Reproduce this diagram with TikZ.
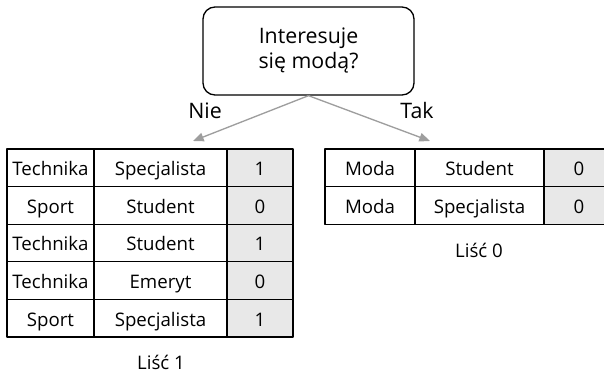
\documentclass[tikz,border=0pt]{standalone}
\usepackage{fontspec}
\setmainfont{Open Sans}
\usetikzlibrary{arrows.meta}
\definecolor{arrowgray}{rgb}{0.62,0.62,0.62}
\definecolor{cellgray}{rgb}{0.91,0.91,0.91}

\begin{document}
\begin{tikzpicture}[x=0.75pt,y=-0.75pt,line join=round,
    cell/.style={draw,line width=1pt,minimum height=28.2pt,inner sep=0pt,
      text height=12pt,text depth=0pt,font=\fontsize{14}{16}\selectfont},
    valcell/.style={cell,fill=cellgray},
    question/.style={draw,line width=1pt,rounded corners=9pt,align=center,
      minimum width=158.25pt,minimum height=66pt,
      font=\fontsize{16}{18.75}\selectfont},
    answer/.style={font=\fontsize{16}{18.75}\selectfont},
    leaf/.style={font=\fontsize{14}{16}\selectfont},
    branch/.style={-{Triangle[length=8pt,width=6.5pt]},line width=1pt,color=arrowgray}]

    \useasboundingbox (0,0) rectangle (604,373);

    % pytanie w korzeniu
    \node[question] (root) at (308.5,51) {Interesuje\\się modą?};

    % galezie
    \coordinate (nieend) at (193,141);
    \coordinate (takend) at (430,141);
    \draw [branch] (root.south) -- (nieend);
    \draw [branch] (root.south) -- (takend);
    \node[answer] (nie) at (205,111) {Nie};
    \node[answer] (tak) at (417,111) {Tak};

    % lewy lisc
    \foreach \sa/\sb/\sc [count=\i] in {Technika/Specjalista/1, Sport/Student/0, Technika/Student/1, Technika/Emeryt/0, Sport/Specjalista/1}{
        \node[cell, minimum width=65.25pt] (la\i) at (50.5,{130.2+37.6*\i}) {\sa};
        \node[cell, minimum width=99.75pt] (lb\i) at (160.5,{130.2+37.6*\i}) {\sb};
        \node[valcell, minimum width=49.5pt] (lc\i) at (260,{130.2+37.6*\i}) {\sc};
    }
    \node[leaf] (leafone) at (161,362) {Liść 1};

    % prawy lisc
    \foreach \sa/\sb/\sc [count=\i] in {Moda/Student/0, Moda/Specjalista/0}{
        \node[cell, minimum width=67.5pt] (ra\i) at (370,{130.2+37.6*\i}) {\sa};
        \node[cell, minimum width=96.75pt] (rb\i) at (479.5,{130.2+37.6*\i}) {\sb};
        \node[valcell, minimum width=52.5pt] (rc\i) at (579,{130.2+37.6*\i}) {\sc};
    }
    \node[leaf] (leafzero) at (479,250) {Liść 0};

\end{tikzpicture}
\end{document}
